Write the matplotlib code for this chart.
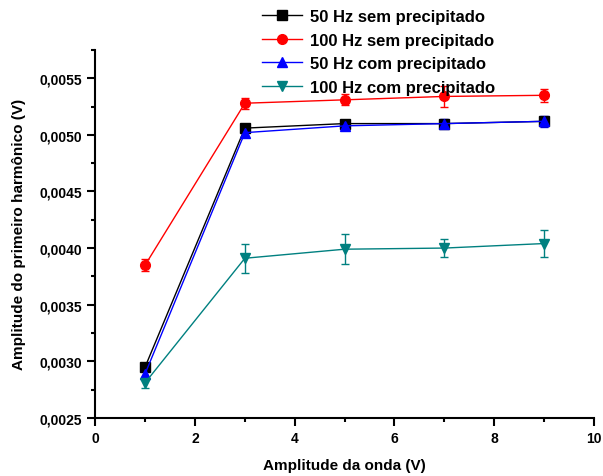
import matplotlib
matplotlib.use("Agg")
import matplotlib.pyplot as plt
from matplotlib.lines import Line2D
from matplotlib.ticker import FuncFormatter, MultipleLocator

plt.rcParams["font.family"] = ["Liberation Sans", "DejaVu Sans"]
plt.rcParams["font.weight"] = "bold"

x = [1, 3, 5, 7, 9]

y_50_sem = [0.00295, 0.00506, 0.00510, 0.00510, 0.00512]
e_50_sem = [0.00003, 0.00003, 0.00003, 0.00003, 0.00004]
y_100_sem = [0.00385, 0.00528, 0.00531, 0.00534, 0.00535]
e_100_sem = [0.00005, 0.00005, 0.00005, 0.00009, 0.00006]
y_50_com = [0.00289, 0.00502, 0.00508, 0.00510, 0.00512]
e_50_com = [0.00003, 0.00003, 0.00004, 0.00004, 0.00005]
y_100_com = [0.00281, 0.00391, 0.00399, 0.00400, 0.00404]
e_100_com = [0.00005, 0.00013, 0.00013, 0.00008, 0.00012]

series = [
    ("50 Hz sem precipitado", y_50_sem, e_50_sem, "black", "s"),
    ("100 Hz sem precipitado", y_100_sem, e_100_sem, "red", "o"),
    ("50 Hz com precipitado", y_50_com, e_50_com, "blue", "^"),
    ("100 Hz com precipitado", y_100_com, e_100_com, "#008080", "v"),
]

fig = plt.figure(figsize=(6.03, 4.77), dpi=100)
ax = fig.add_axes([0.158, 0.122, 0.827, 0.771])

handles = []
for label, y, e, c, m in series:
    ax.errorbar(x, y, yerr=e, color=c, marker=m, markersize=7, linewidth=1,
                capsize=3, elinewidth=1)
    handles.append(Line2D([], [], color=c, marker=m, markersize=7,
                          linewidth=1, label=label))

ax.set_xlim(0, 10)
ax.set_ylim(0.0025, 0.00575)
ax.xaxis.set_major_locator(MultipleLocator(2))
ax.xaxis.set_minor_locator(MultipleLocator(1))
ax.yaxis.set_major_locator(MultipleLocator(0.0005))
ax.yaxis.set_minor_locator(MultipleLocator(0.00025))
ax.yaxis.set_major_formatter(FuncFormatter(lambda v, p: f"{v:.4f}".replace(".", ",")))

for s in ["top", "right"]:
    ax.spines[s].set_visible(False)
for s in ["left", "bottom"]:
    ax.spines[s].set_linewidth(1.5)
ax.tick_params(which="major", length=6, width=1.5, labelsize=10)
ax.tick_params(which="minor", length=3, width=1.5)

ax.set_xlabel("Amplitude da onda (V)", fontsize=11, fontweight="bold", labelpad=9)
ax.set_ylabel("Amplitude do primeiro harmônico (V)", fontsize=11,
              fontweight="bold", labelpad=10)

fig.legend(handles=handles, loc="upper left", bbox_to_anchor=(0.418, 1.0),
           frameon=False, fontsize=12, handlelength=2.4, handletextpad=0.5,
           labelspacing=0.52, borderaxespad=0.2)

fig.savefig("out.png", dpi=100)
